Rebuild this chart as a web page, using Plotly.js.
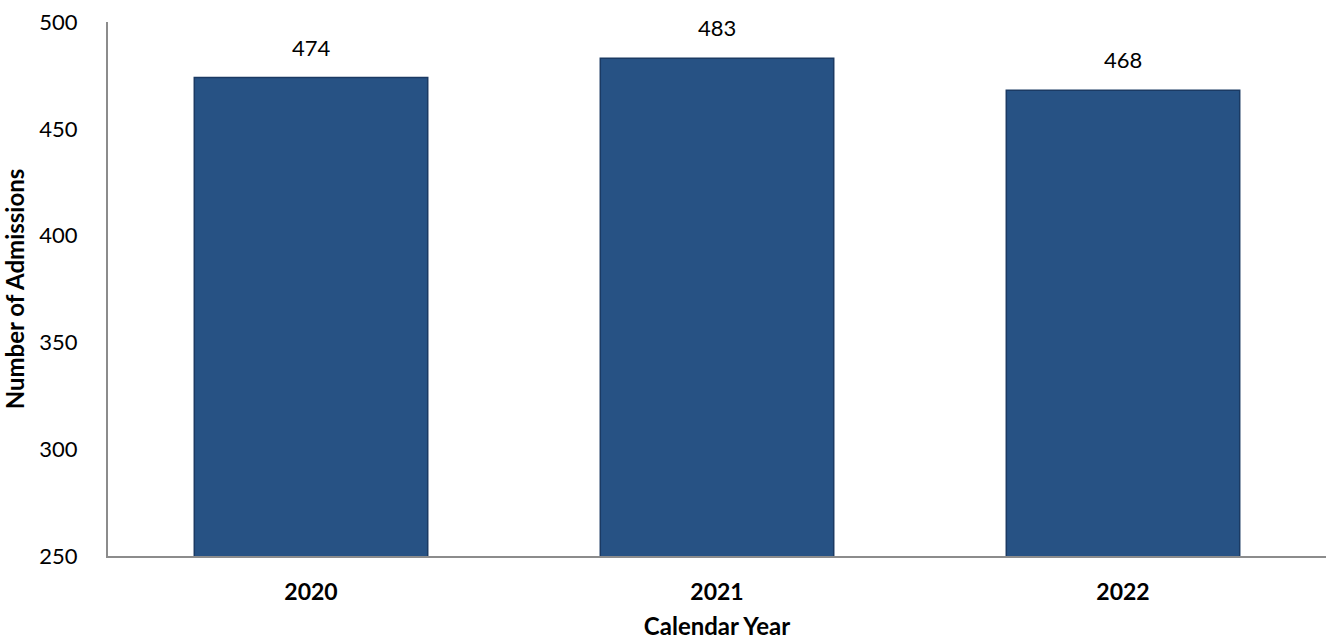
<!DOCTYPE html>
<html>
<head>
<meta charset="utf-8">
<script src="https://cdn.plot.ly/plotly-3.0.1.min.js"></script>
<style>html,body{margin:0;padding:0;background:#fff;}#chart{width:1330px;height:640px;}</style>
</head>
<body>
<div id="chart"></div>
<script>
const years = ["2020", "2021", "2022"];
const admissions = [474, 483, 468];
const yTicks = [250, 300, 350, 400, 450, 500];

const fontFam = "Lato, 'Open Sans', 'Liberation Sans', sans-serif";

const trace = {
  type: "bar",
  x: years,
  y: admissions,
  marker: {color: "#275284", line: {color: "#1B3A63", width: 1.5}},
  hoverinfo: "x+y"
};

const annotations = years.map((yr, i) => ({
  x: i, y: admissions[i], xref: "x", yref: "y",
  text: String(admissions[i]),
  showarrow: false, yanchor: "bottom", yshift: 15,
  font: {family: fontFam, size: 22, color: "#000"}
}));

const layout = {
  width: 1330, height: 640,
  margin: {l: 108, r: 4, t: 22, b: 84},
  paper_bgcolor: "#fff", plot_bgcolor: "#fff",
  bargap: 0.425,
  showlegend: false,
  font: {family: fontFam, size: 22, color: "#000"},
  annotations: annotations,
  xaxis: {
    type: "category",
    categoryarray: years,
    range: [-0.5, years.length - 0.5],
    showline: true, linecolor: "#8C8C8C", linewidth: 2,
    ticks: "", showgrid: false, zeroline: false,
    tickfont: {family: fontFam, size: 23, color: "#000", weight: "bold"},
    ticklabelstandoff: 14,
    title: {text: "<b>Calendar Year</b>", font: {family: fontFam, size: 24, color: "#000"}, standoff: 16}
  },
  yaxis: {
    range: [250, 500],
    tickvals: yTicks,
    showline: true, linecolor: "#8C8C8C", linewidth: 2,
    ticks: "", showgrid: false, zeroline: false,
    tickfont: {family: fontFam, size: 22, color: "#000"},
    ticklabelstandoff: 24,
    title: {text: "<b>Number of Admissions</b>", font: {family: fontFam, size: 24, color: "#000"}, standoff: 14}
  }
};

Plotly.newPlot("chart", [trace], layout, {displayModeBar: false, staticPlot: true});
</script>
</body>
</html>
